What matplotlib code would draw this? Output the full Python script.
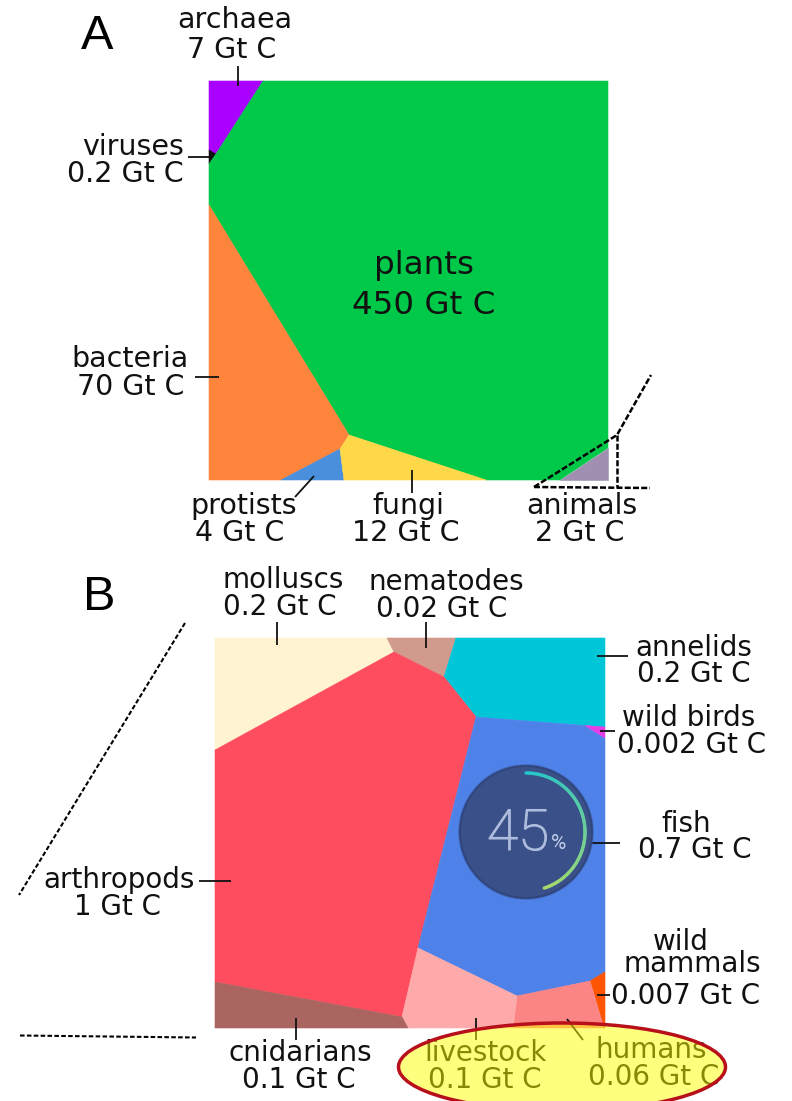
import numpy as np
import matplotlib
matplotlib.use("Agg")
import matplotlib.pyplot as plt
import matplotlib.patheffects as pe
from matplotlib.patches import Polygon, Circle, Ellipse
from matplotlib.collections import LineCollection

# voronoi cells (pixel units of the 792x1101 image)
cell_names = ["archaea", "viruses", "plants", "bacteria", "protists", "fungi", "animals",
              "molluscs", "nematodes", "annelids", "arthropods", "fish", "wild birds",
              "wild mammals", "humans", "livestock", "cnidarians"]
cell_colors = ["#aa00ff", "#111111", "#00c94a", "#ff843c", "#4a8fdc", "#ffd84a", "#a08fb0",
               "#fff3d2", "#d09a8c", "#00c6d8", "#ff4d60", "#4f82e8", "#e63ce6",
               "#ff5500", "#fb8585", "#ffaaaa", "#ab6560"]
cell_outlines = [
    [(209, 81), (263, 81), (216, 154), (209, 150)],
    [(209, 150), (216, 154), (209, 164)],
    [(263, 81), (608, 81), (608, 448), (560, 480), (486, 480), (349, 435), (209, 205), (209, 164), (216, 154)],
    [(209, 205), (349, 435), (340, 449), (281, 480), (209, 480)],
    [(340, 449), (344, 480), (281, 480)],
    [(349, 435), (486, 480), (344, 480), (340, 449)],
    [(608, 448), (608, 480), (560, 480)],
    [(215, 638), (394, 638), (394, 652), (215, 750)],
    [(387, 638), (456, 638), (444, 677), (394, 652)],
    [(456, 638), (605, 638), (605, 727), (476, 717), (444, 677)],
    [(215, 750), (394, 652), (444, 677), (476, 717), (418, 948), (402, 1017), (215, 982)],
    [(476, 717), (585, 725.5), (605, 738), (605, 972), (590, 981), (517, 996), (418, 948)],
    [(585, 725.5), (605, 727), (605, 738)],
    [(590, 981), (605, 972), (605, 1028), (604, 1028)],
    [(517, 996), (590, 981), (604, 1028), (513, 1028)],
    [(418, 948), (517, 996), (513, 1028), (408, 1028), (402, 1017)],
    [(215, 982), (402, 1017), (408, 1028), (215, 1028)],
]

# label text, one entry per line of text
label_text = ["archaea", "7 Gt C", "viruses", "0.2 Gt C", "bacteria", "70 Gt C", "protists", "4 Gt C",
              "fungi", "12 Gt C", "animals", "2 Gt C", "molluscs", "0.2 Gt C", "nematodes", "0.02 Gt C",
              "annelids", "0.2 Gt C", "wild birds", "0.002 Gt C", "fish", "0.7 Gt C", "arthropods", "1 Gt C",
              "wild", "mammals", "0.007 Gt C", "cnidarians", "0.1 Gt C", "livestock", "0.1 Gt C",
              "humans", "0.06 Gt C"]
label_x = [235, 232, 133, 125, 130, 131, 244, 240, 408, 406, 582, 580, 283, 280, 446, 442,
           694, 694, 689, 692, 686, 695, 119, 117, 681, 692, 686, 300, 299, 486, 485, 651, 654]
label_base = [28, 58, 155, 182, 367, 395, 514, 541, 514, 541, 514, 541, 588, 615, 590, 617,
              656, 682, 726, 753, 832, 858, 888, 915, 950, 972, 1004, 1061, 1088, 1061, 1088, 1058, 1085]

leaders = [
    [(238, 66), (238, 86)], [(188, 157), (212, 157)], [(195, 377), (219, 377)], [(295, 497), (314, 476)],
    [(412, 470), (412, 493)], [(277, 622), (277, 645)], [(426, 622), (426, 648)], [(597, 656), (628, 656)],
    [(600, 731), (615, 731)], [(588, 843), (620, 843)], [(199, 881), (231, 881)], [(597, 995), (610, 995)],
    [(567, 1019), (583, 1040)], [(476, 1018), (476, 1040)], [(296, 1018), (296, 1040)],
]
dotted_a = [[(534, 487), (617, 435), (651, 375)], [(617, 435), (617, 487)], [(534, 487), (650, 488)]]
dotted_b = [[(185, 623), (19, 895)], [(20, 1035.5), (196, 1037.5)]]

fig = plt.figure(figsize=(7.92, 11.01), dpi=100)
ax = fig.add_axes([0, 0, 1, 1])
ax.set_xlim(0, 792)
ax.set_ylim(1101, 0)
ax.axis("off")

for name, col, pts in zip(cell_names, cell_colors, cell_outlines):
    ax.add_patch(Polygon(pts, closed=True, facecolor=col, edgecolor=col, linewidth=0.4, zorder=1))

for seg in leaders:
    xs, ys = zip(*seg)
    ax.plot(xs, ys, color="#111111", lw=1.3, zorder=3, solid_capstyle="butt")
for seg in dotted_a:
    xs, ys = zip(*seg)
    ax.plot(xs, ys, color="black", lw=1.8, ls=(0, (2.4, 0.9)), zorder=3)
for seg in dotted_b:
    xs, ys = zip(*seg)
    ax.plot(xs, ys, color="black", lw=1.5, ls=(0, (2.2, 1.1)), zorder=3)

# the stray percent widget on top of the fish cell
cx, cy = 526, 832
ax.add_patch(Circle((cx, cy), 68, facecolor="#3f5fae", edgecolor="none", alpha=0.5, zorder=3))
ax.add_patch(Circle((cx, cy), 66, facecolor="#3a5088", edgecolor="#30467c", lw=1.5, zorder=3))
ang = np.radians(np.linspace(90, -72, 80))
arc_x = cx + 59 * np.cos(ang)
arc_y = cy - 59 * np.sin(ang)
segs = [[(arc_x[i], arc_y[i]), (arc_x[i + 1], arc_y[i + 1])] for i in range(len(ang) - 1)]
c0 = np.array(matplotlib.colors.to_rgb("#22c4cc"))
c1 = np.array(matplotlib.colors.to_rgb("#a6d86e"))
arc_cols = [c0 + (c1 - c0) * i / (len(segs) - 1) for i in range(len(segs))]
ax.add_collection(LineCollection(segs, colors=arc_cols, linewidths=2.4, capstyle="round", zorder=4))
ax.text(518, 850, "45", fontsize=41, family="Roboto", weight="light", color="#aebcde",
        ha="center", va="baseline", zorder=5,
        path_effects=[pe.withStroke(linewidth=0.8, foreground="#aebcde")])
ax.text(559, 849, "%", fontsize=15, family="Roboto", color="#c4d0ea", ha="center", va="baseline", zorder=5)

for i, (txt, x, y) in enumerate(zip(label_text, label_x, label_base)):
    # panel A labels are drawn a touch larger in the original
    size = 20.5 if i < 12 else 20
    ax.text(x, y, txt, fontsize=size, color="#111111", ha="center", va="baseline", zorder=6)

ax.text(424, 274, "plants", fontsize=23.4, color="#111111", ha="center", va="baseline", zorder=6)
ax.text(424, 314, "450 Gt C", fontsize=23.4, color="#111111", ha="center", va="baseline", zorder=6)
ax.text(97, 49, "A", fontsize=35, family="Liberation Sans", ha="center", va="baseline", zorder=6)
ax.text(99, 610, "B", fontsize=35, family="Liberation Sans", ha="center", va="baseline", zorder=6)

# highlight on humans and livestock
ax.add_patch(Ellipse((562, 1067), 327, 88, facecolor=(1, 1, 0, 0.5), edgecolor="#b8101a", lw=2.5, zorder=7))

fig.savefig("out.png", dpi=100)
